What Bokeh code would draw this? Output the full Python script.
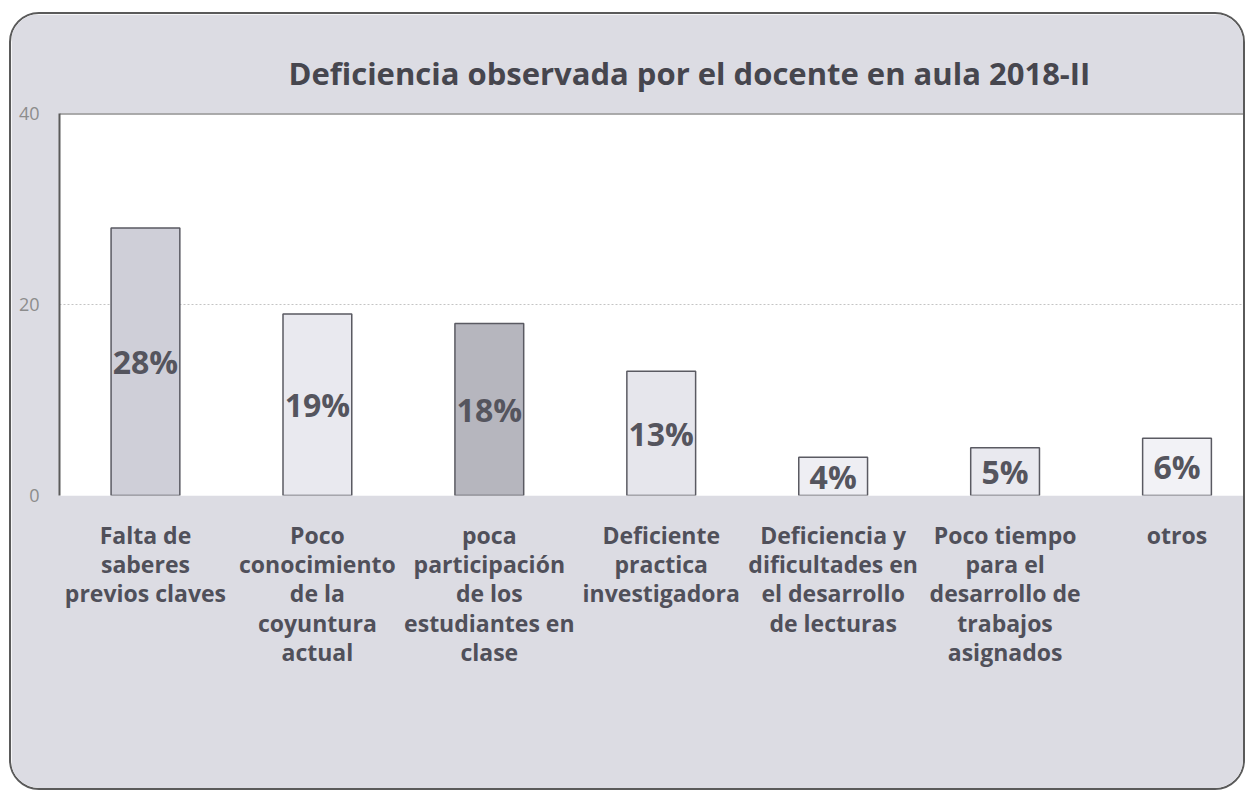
from bokeh.plotting import figure
from bokeh.models import ColumnDataSource, LabelSet, Range1d, FixedTicker, Span, Title
from bokeh.core.properties import value
from bokeh.embed import file_html
from bokeh.resources import INLINE

# ---- data ----
categories = [
    "Falta de\nsaberes\nprevios claves",
    "Poco\nconocimiento\nde la\ncoyuntura\nactual",
    "poca\nparticipación\nde los\nestudiantes en\nclase",
    "Deficiente\npractica\ninvestigadora",
    "Deficiencia y\ndificultades en\nel desarrollo\nde lecturas",
    "Poco tiempo\npara el\ndesarrollo de\ntrabajos\nasignados",
    "otros",
]
values = [28, 19, 18, 13, 4, 5, 6]
y_ticks = [0, 20, 40]
title_text = "Deficiencia observada por el docente en aula 2018-II"

# ---- styles ----
bar_colors = ["#cfcfd8", "#e9e9ef", "#b6b6be", "#e6e6ec", "#eeeef3", "#e9e9ef", "#f2f2f6"]
BG = "#dcdce3"
TXT = "#46464e"
FONT = "Open Sans"

xs = list(range(len(values)))
src = ColumnDataSource(dict(
    x=xs,
    top=values,
    color=bar_colors,
    label_y=[v / 2 for v in values],
    label=[f"{v}%" for v in values],
))

p = figure(
    width=1236, height=778,
    output_backend="svg", toolbar_location=None,
    x_range=Range1d(-0.5, 6.41), y_range=Range1d(0, 40),
    min_border_left=48, min_border_right=0, min_border_top=99, min_border_bottom=297,
)
p.styles = {"border": "2px solid #5a5a5a", "border-radius": "30px", "overflow": "hidden",
            "margin-left": "9px", "margin-top": "12px"}
p.border_fill_color = BG
p.background_fill_color = "#ffffff"
p.outline_line_color = None

p.vbar(x="x", top="top", width=0.40, bottom=0, fill_color="color",
       line_color="#5a5a62", line_width=1.5, source=src)

labels = LabelSet(x="x", y="label_y", text="label", source=src,
                  text_align="center", text_baseline="middle",
                  text_font=value(FONT), text_font_style="bold", text_font_size="32px",
                  text_color="#55555e")
p.add_layout(labels)

p.add_layout(Span(location=40, dimension="width", line_color="#5a5a5a", line_width=2))

# title
t = Title(text=title_text, align="left", offset=229, text_font=FONT, text_font_style="bold",
          text_font_size="31px", text_color=TXT, standoff=40)
p.title = t

# axes
p.xaxis.ticker = FixedTicker(ticks=xs)
p.xaxis.major_label_overrides = {i: c for i, c in zip(xs, categories)}
p.xaxis.axis_line_color = None
p.xaxis.major_tick_line_color = None
p.xaxis.minor_tick_line_color = None
p.xaxis.major_label_text_font = FONT
p.xaxis.major_label_text_font_style = "bold"
p.xaxis.major_label_text_font_size = "23px"
p.xaxis.major_label_text_color = "#50505a"
p.xaxis.major_label_text_line_height = 0.92
p.xaxis.major_label_standoff = 17

p.yaxis.ticker = FixedTicker(ticks=y_ticks)
p.yaxis.axis_line_color = "#5a5a5a"
p.yaxis.axis_line_width = 2
p.yaxis.major_tick_line_color = None
p.yaxis.minor_tick_line_color = None
p.yaxis.major_label_text_font = FONT
p.yaxis.major_label_text_font_size = "18px"
p.yaxis.major_label_text_color = "#8c8c8c"
p.yaxis.major_label_standoff = 14

p.xgrid.grid_line_color = None
p.ygrid.ticker = FixedTicker(ticks=[20])
p.ygrid.grid_line_color = "#c4c4c4"
p.ygrid.grid_line_dash = "2 2"
p.ygrid.grid_line_width = 1

open("out.html", "w").write(file_html(p, INLINE))
